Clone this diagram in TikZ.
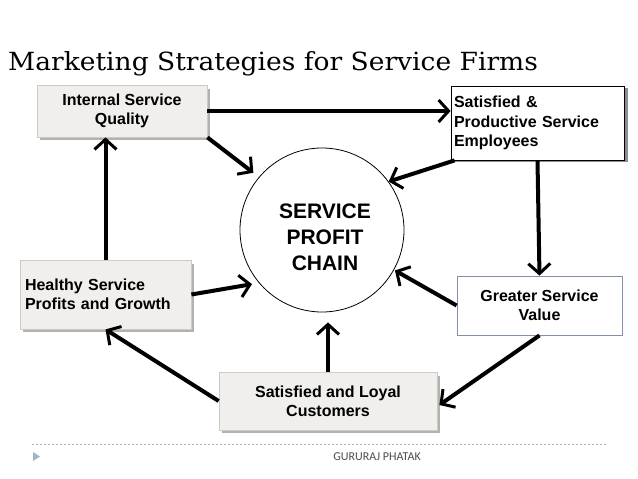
\documentclass[tikz,border=0pt]{standalone}
\usepackage{fontspec}
\setmainfont{Liberation Sans}
\newfontfamily\titlefont{DejaVu Serif}
\newfontfamily\footfont{Carlito}
\usetikzlibrary{arrows.meta,calc}
\definecolor{boxfill}{HTML}{F0EFED}
\definecolor{boxline}{HTML}{CFC9BF}
\definecolor{blueline}{HTML}{8390A8}
\definecolor{footgray}{HTML}{A6B4C2}
\begin{document}
\begin{tikzpicture}[x=1pt,y=-1pt,
  graybox/.style={draw=boxline, line width=0.8pt, fill=boxfill, font=\bfseries\fontsize{16}{19}\selectfont, inner sep=4pt},
  whitebox/.style={draw=black, line width=0.8pt, fill=white, font=\bfseries\fontsize{16}{19.5}\selectfont, inner sep=2pt},
  conn/.style={line width=4pt, -{Straight Barb[length=10pt,width=22pt,line width=3pt]}},
]
\useasboundingbox (0,0) rectangle (638,479);
\fill[white] (0,0) rectangle (638,479);

% title
\node[anchor=base west, inner sep=0pt, xscale=1.06, font=\titlefont\fontsize{25}{30}\selectfont] (title) at (8,70) {Marketing Strategies for Service Firms};

% shadows
\fill[black!30] (40,89) rectangle (210,140);
\fill[black!45] (454,88) rectangle (628,162);
\fill[black!30] (23,264) rectangle (194,332);
\fill[black!30] (222,376) rectangle (440,433);

% boxes
\node[graybox, minimum width=170pt, minimum height=52pt, align=center] (int) at (122,111) {Internal Service\\Quality};
\node[whitebox, minimum width=173pt, minimum height=74pt, text width=167pt, align=left] (sat) at (537.5,123) {Satisfied \&\\Productive Service\\Employees};
\node[graybox, minimum width=171pt, minimum height=69pt, text width=161pt, align=left] (hea) at (105.5,294.5) {Healthy Service\\Profits and Growth};
\node[whitebox, draw=blueline, minimum width=165pt, minimum height=59pt, align=center] (gre) at (539.5,305.5) {Greater Service\\Value};
\node[graybox, minimum width=218pt, minimum height=58pt, align=center] (loy) at (328,401) {Satisfied and Loyal\\Customers};

% circle
\node[draw=black, line width=0.8pt, circle, minimum size=164pt, inner sep=0pt] (circ) at (322,230) {};
\node[font=\bfseries\fontsize{21}{26}\selectfont, align=center] (chain) at (325,237) {SERVICE\\PROFIT\\CHAIN};

% connectors
\draw[conn] (int.east) -- (int.east -| sat.west);
\draw[conn, shorten >=7pt] (int.south east) -- (circ.140);
\draw[conn] ([xshift=4pt]sat.south west) -- (circ.36);
\draw[conn] (sat.south) -- (gre.north);
\draw[conn, shorten >=1pt] (gre.west) -- (circ.-29);
\draw[conn] (gre.south) -- ([xshift=2pt,yshift=-4pt]loy.east);
\draw[conn, shorten >=10pt] (loy.north) -- (loy.north |- circ.-90);
\draw[conn] (loy.west) -- (hea.south);
\draw[conn] (hea.north) -- (hea.north |- int.south);
\draw[conn, shorten >=7pt] (hea.east) -- (circ.220);

% footer
\draw[footgray, dash pattern=on 2pt off 2pt, line width=0.6pt] (32,444) coordinate (fl) -- (608,444) coordinate (fr);
\fill[footgray] (33,452) -- (40,456.5) -- (33,461) -- cycle;
\node[anchor=base, inner sep=0pt, text=black!70, font=\footfont\fontsize{12}{14}\selectfont] (foot) at (377,460) {GURURAJ PHATAK};
\end{tikzpicture}
\end{document}
